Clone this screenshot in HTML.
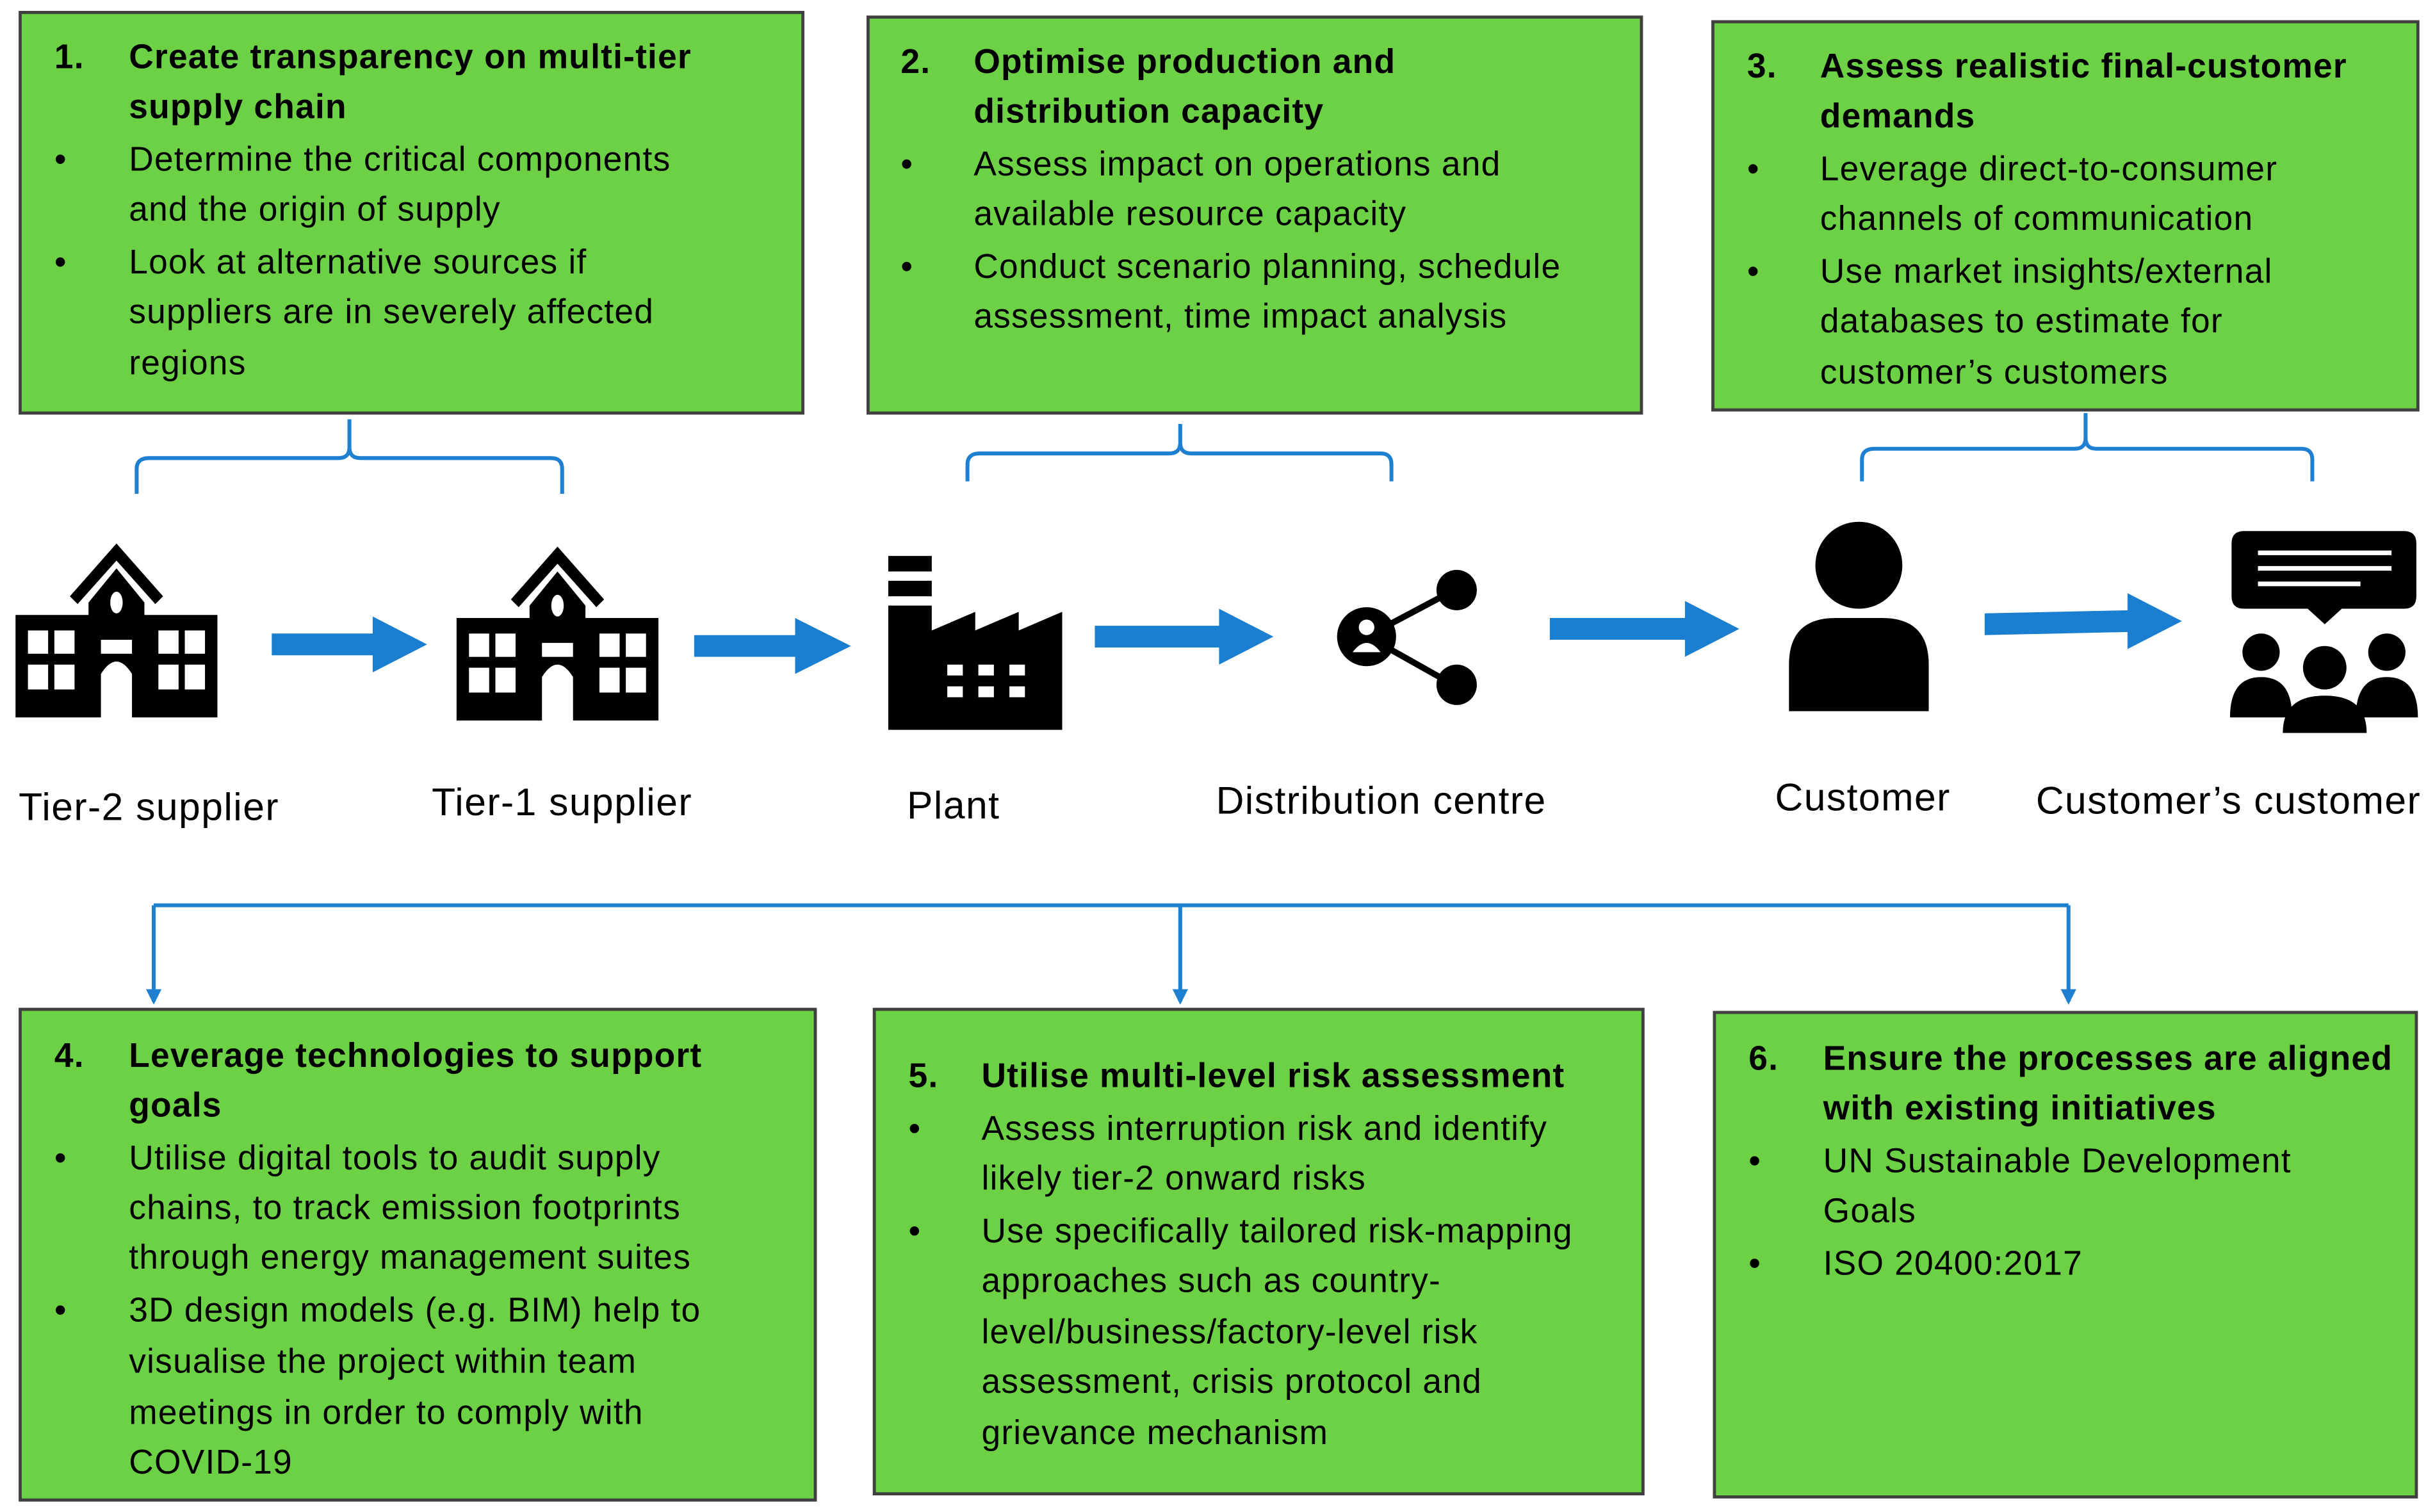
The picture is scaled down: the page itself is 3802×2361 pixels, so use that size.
<!DOCTYPE html>
<html><head><meta charset="utf-8"><style>html,body{margin:0;padding:0;background:#fff}svg{display:block}</style></head><body>
<svg width="3802" height="2361" viewBox="0 0 1568 973.7" xmlns="http://www.w3.org/2000/svg" font-family="'Liberation Sans', sans-serif">
<defs>
<g id="bld">
<path d="M0,0 L-30,34 L-25,39 L0,11 L25,39 L30,34 Z" fill="#000"/>
<path d="M-18,38 L0,16 L18,38 L18,46 L65,46 L65,112 L10,112 L10,84 Q0,68 -10,84 L-10,112 L-65,112 L-65,46 L-18,46 Z" fill="#000"/>
<ellipse cx="0" cy="38" rx="4" ry="7" fill="#fff"/>
<g fill="#fff">
<rect x="-57" y="56" width="13" height="15"/><rect x="-40" y="56" width="13" height="15"/><rect x="27" y="56" width="13" height="15"/><rect x="44" y="56" width="13" height="15"/>
<rect x="-57" y="78" width="13" height="16"/><rect x="-40" y="78" width="13" height="16"/><rect x="27" y="78" width="13" height="16"/><rect x="44" y="78" width="13" height="16"/>
<rect x="-10" y="62" width="20" height="9"/>
</g>
</g>
<marker id="ah" markerWidth="10" markerHeight="10" refX="8" refY="5" orient="auto" markerUnits="userSpaceOnUse"><path d="M0,0 L10,5 L0,10 Z" fill="#1f7fd0"/></marker>
</defs>
<g stroke="#404040" stroke-width="2" fill="#6dd146">
<rect x="13" y="8" width="504" height="258"/>
<rect x="559" y="11" width="498" height="255"/>
<rect x="1103" y="14" width="454" height="250"/>
<rect x="13" y="650" width="512" height="316"/>
<rect x="563" y="650" width="495" height="312"/>
<rect x="1104" y="652" width="452" height="312"/>
</g>
<g font-size="22" fill="#000" letter-spacing="0.5">
<g font-weight="bold"><text x="35" y="44">1.</text><text x="83" y="44">Create transparency on multi-tier</text><text x="83" y="76">supply chain</text></g>
<text x="35" y="110">•</text><text x="83" y="110">Determine the critical components</text><text x="83" y="142">and the origin of supply</text>
<text x="35" y="176">•</text><text x="83" y="176">Look at alternative sources if</text><text x="83" y="208">suppliers are in severely affected</text><text x="83" y="241">regions</text>

<g font-weight="bold"><text x="580" y="47">2.</text><text x="627" y="47">Optimise production and</text><text x="627" y="79">distribution capacity</text></g>
<text x="580" y="113">•</text><text x="627" y="113">Assess impact on operations and</text><text x="627" y="145">available resource capacity</text>
<text x="580" y="179">•</text><text x="627" y="179">Conduct scenario planning, schedule</text><text x="627" y="211">assessment, time impact analysis</text>

<g font-weight="bold"><text x="1125" y="50">3.</text><text x="1172" y="50">Assess realistic final-customer</text><text x="1172" y="82">demands</text></g>
<text x="1125" y="116">•</text><text x="1172" y="116">Leverage direct-to-consumer</text><text x="1172" y="148">channels of communication</text>
<text x="1125" y="182">•</text><text x="1172" y="182">Use market insights/external</text><text x="1172" y="214">databases to estimate for</text><text x="1172" y="247">customer’s customers</text>

<g font-weight="bold"><text x="35" y="687">4.</text><text x="83" y="687">Leverage technologies to support</text><text x="83" y="719">goals</text></g>
<text x="35" y="753">•</text><text x="83" y="753">Utilise digital tools to audit supply</text><text x="83" y="785">chains, to track emission footprints</text><text x="83" y="817">through energy management suites</text>
<text x="35" y="851">•</text><text x="83" y="851">3D design models (e.g. BIM) help to</text><text x="83" y="884">visualise the project within team</text><text x="83" y="917">meetings in order to comply with</text><text x="83" y="949">COVID-19</text>

<g font-weight="bold"><text x="585" y="700">5.</text><text x="632" y="700">Utilise multi-level risk assessment</text></g>
<text x="585" y="734">•</text><text x="632" y="734">Assess interruption risk and identify</text><text x="632" y="766">likely tier-2 onward risks</text>
<text x="585" y="800">•</text><text x="632" y="800">Use specifically tailored risk-mapping</text><text x="632" y="832">approaches such as country-</text><text x="632" y="865">level/business/factory-level risk</text><text x="632" y="897">assessment, crisis protocol and</text><text x="632" y="930">grievance mechanism</text>

<g font-weight="bold"><text x="1126" y="689">6.</text><text x="1174" y="689">Ensure the processes are aligned</text><text x="1174" y="721">with existing initiatives</text></g>
<text x="1126" y="755">•</text><text x="1174" y="755">UN Sustainable Development</text><text x="1174" y="787">Goals</text>
<text x="1126" y="821">•</text><text x="1174" y="821">ISO 20400:2017</text>
</g>
<g fill="none" stroke="#1f7fd0" stroke-width="2.5">
<path d="M88,318 V302 Q88,295 96,295 H218 Q225,295 225,288 V270 M225,288 Q225,295 232,295 H355 Q362,295 362,302 V318"/>
<path d="M623,310 V299 Q623,292 631,292 H753 Q760,292 760,285 V273 M760,285 Q760,292 767,292 H889 Q896,292 896,299 V310"/>
<path d="M1199,310 V296 Q1199,289 1207,289 H1336 Q1343,289 1343,282 V266 M1343,282 Q1343,289 1350,289 H1482 Q1489,289 1489,296 V310"/>
<path d="M99,583 H1332"/>
<path d="M99,583 V645" marker-end="url(#ah)"/><path d="M760,583 V645" marker-end="url(#ah)"/><path d="M1332,583 V645" marker-end="url(#ah)"/>
</g>
<g fill="#1a7fd0">
<path d="M175,408 H240 V397 L275,415 L240,433 V422 H175 Z"/>
<path d="M447,409 H512 V398 L548,416 L512,434 V423 H447 Z"/>
<path d="M705,403 H785 V392 L820,410 L785,428 V417 H705 Z"/>
<path d="M998,398 H1085 V387 L1120,405 L1085,423 V412 H998 Z"/>
<path d="M1278,395 L1370,393 V382 L1405,400 L1370,418 V407 L1278,409 Z"/>
</g>
<use href="#bld" x="75" y="350"/>
<use href="#bld" x="359" y="352"/>
<g fill="#000">
<path d="M572,358 h28 v10 h-28z M572,374 h28 v10 h-28z M572,390 h28 v16 l28,-12 v12 l28,-12 v12 l28,-12 v76 h-112z"/>
<g fill="#fff"><rect x="610" y="428" width="10" height="7"/><rect x="630" y="428" width="10" height="7"/><rect x="650" y="428" width="10" height="7"/><rect x="610" y="442" width="10" height="7"/><rect x="630" y="442" width="10" height="7"/><rect x="650" y="442" width="10" height="7"/></g>
<circle cx="880" cy="410" r="19"/><circle cx="938" cy="380" r="13"/><circle cx="938" cy="441" r="13"/>
<circle cx="880" cy="404" r="5" fill="#fff"/><path d="M871,420 Q880,408 889,420 Z" fill="#fff"/>
<path d="M895,402 L927,385 M895,418 L927,436" stroke="#000" stroke-width="4"/>
<circle cx="1197" cy="364" r="28"/><path d="M1152,458 V428 Q1152,398 1182,398 H1212 Q1242,398 1242,428 V458 Z"/>
<path d="M1437,350 Q1437,342 1445,342 H1548 Q1556,342 1556,350 V384 Q1556,392 1548,392 H1508 L1497,402 L1486,392 H1445 Q1437,392 1437,384 Z"/>
<g stroke="#fff" stroke-width="3"><path d="M1454,356 H1540 M1454,366 H1540 M1454,376 H1520"/></g>
<circle cx="1456" cy="420" r="12"/><circle cx="1537" cy="420" r="12"/><circle cx="1497" cy="430" r="14"/>
<path d="M1436,462 Q1436,436 1456,436 Q1476,436 1476,462Z M1517,462 Q1517,436 1537,436 Q1557,436 1557,462Z M1470,472 Q1470,448 1497,448 Q1524,448 1524,472Z"/>
</g>
<g font-size="25" fill="#000" letter-spacing="0.6">
<text x="12" y="528">Tier-2 supplier</text>
<text x="278" y="525">Tier-1 supplier</text>
<text x="584" y="527">Plant</text>
<text x="783" y="524">Distribution centre</text>
<text x="1143" y="522">Customer</text>
<text x="1311" y="524">Customer’s customer</text>
</g>
</svg>
</body></html>
